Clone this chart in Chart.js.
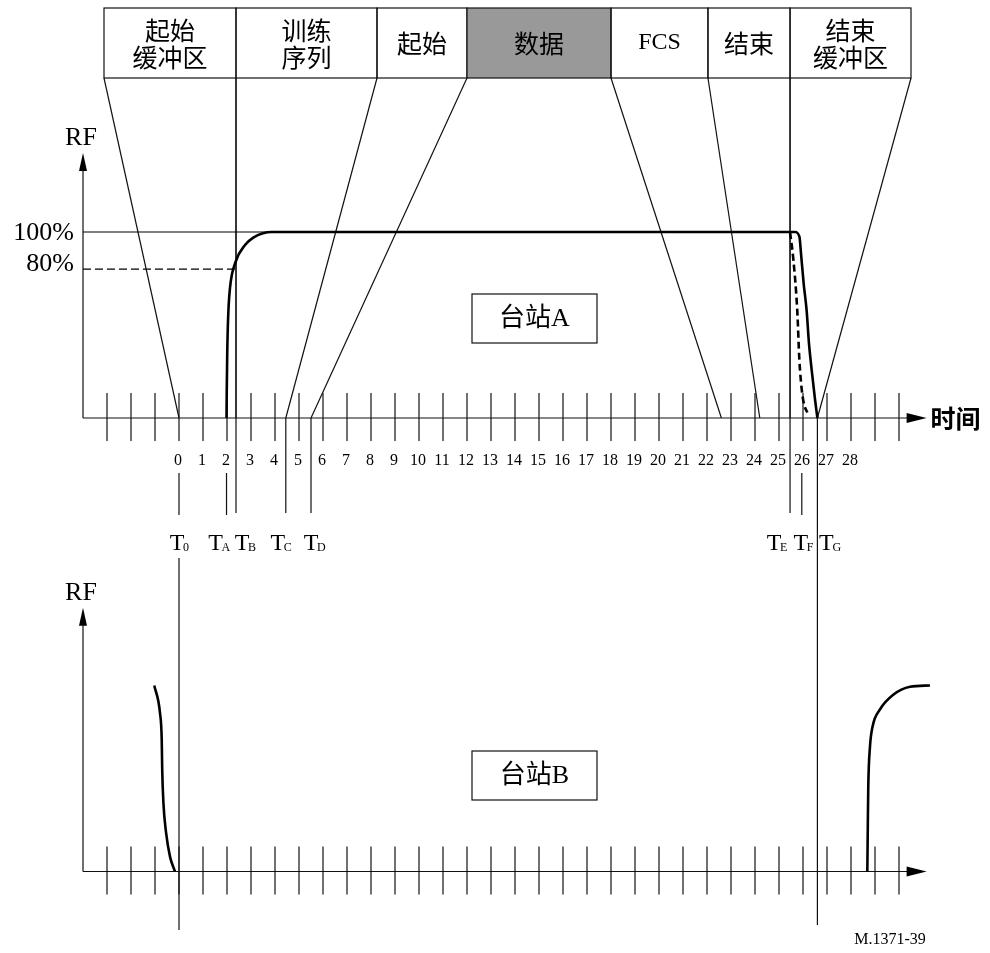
<!DOCTYPE html>
<html>
<head>
<meta charset="utf-8">
<script src="https://cdn.jsdelivr.net/npm/chart.js@4"></script>
<style>
  body { margin: 0; background: #fff; }
  canvas { display: block; }
</style>
</head>
<body>
<canvas id="timing" width="990" height="953"></canvas>
<script>
// Trame : segments de l'en-tête et leurs bornes (en unités de temps)
const segments = ['起始\n缓冲区', '训练\n序列', '起始', '数据', 'FCS', '结束', '结束\n缓冲区'];
const segmentEdges = [-3.125, 2.375, 8.25, 12, 18, 22.04, 25.46, 30.5];
// point d'arrivée de chaque borne sur l'axe du temps de la station A
const edgeTargets = [0, 2.375, 4.45, 5.5, 22.6, 24.2, 25.46, 26.6];
const highlighted = '数据';

// Repères temporels T0..TG
const markerNames = ['0', 'A', 'B', 'C', 'D', 'E', 'F', 'G'];
const markerTimes = [0, 1.98, 2.375, 4.45, 5.5, 25.46, 25.95, 26.6];

// Axe du temps
const tickMarks = [-3, -2, -1, 0, 1, 2, 3, 4, 5, 6, 7, 8, 9, 10, 11, 12, 13, 14, 15, 16,
  17, 18, 19, 20, 21, 22, 23, 24, 25, 26, 27, 28, 29, 30];
const tickLabels = ['0', '1', '2', '3', '4', '5', '6', '7', '8', '9', '10', '11', '12', '13', '14',
  '15', '16', '17', '18', '19', '20', '21', '22', '23', '24', '25', '26', '27', '28'];
const levels = [100, 80];
const levelLabels = ['100%', '80%'];

// Courbes RF (temps, % RF)
const stationARf = [
  [1.98, 0], [1.99, 15], [2.01, 35], [2.05, 55], [2.125, 70], [2.36, 84], [2.75, 93],
  [3.1, 97], [3.5, 99.3], [3.85, 100], [25.67, 100], [25.85, 97.5], [25.92, 88],
  [26.03, 72], [26.15, 58], [26.25, 40], [26.36, 26], [26.5, 10], [26.6, 0]
];
const stationAFallEarly = [
  [25.46, 100], [25.6, 85], [25.76, 58], [25.85, 31], [25.95, 15], [26.05, 7], [26.18, 3]
];
const stationBFall = [
  [-1.03, 100], [-0.79, 85], [-0.72, 71], [-0.70, 55], [-0.65, 37], [-0.54, 21], [-0.375, 8], [-0.17, 0]
];
const stationBRise = [
  [28.68, 0], [28.7, 24], [28.72, 45.6], [28.79, 67], [28.9, 78], [29.2, 87], [29.76, 95],
  [30.46, 99.3], [31.29, 100]
];
const stationNames = ['台站A', '台站B'];

// Mise en page (pixels)
const W = 990, H = 953;
const PX_PER_T = 24, T0_PX = 179;
const PX_PER_PCT = 1.86;
const AXIS_A = 418, AXIS_B = 871.5;
const AXIS_START = -4, AXIS_END = 31.15;
const HEADER_TOP = 8, HEADER_BOTTOM = 78;

const SERIF = '"Liberation Serif", "Noto Sans CJK SC", serif';
const CJK = '"Noto Sans CJK SC", sans-serif';

const pts = arr => arr.map(p => ({ x: p[0], y: p[1] }));

function curve(data, axis, extra) {
  return Object.assign({
    data: pts(data),
    yAxisID: axis,
    borderColor: '#000',
    borderWidth: 2.6,
    pointRadius: 0,
    fill: false,
    clip: false,
    cubicInterpolationMode: 'monotone'
  }, extra || {});
}

const datasets = [
  curve([[AXIS_START, levels[0]], [3.85, levels[0]]], 'yA', { borderWidth: 1.2 }),
  curve([[AXIS_START, levels[1]], [markerTimes[2], levels[1]]], 'yA', { borderWidth: 1.2, borderDash: [8, 4] }),
  curve(stationARf, 'yA'),
  curve(stationAFallEarly, 'yA', { borderDash: [7, 4] }),
  curve(stationBFall, 'yB'),
  curve(stationBRise, 'yB')
];

// Dessin du schéma (en-tête, axes, repères, libellés)
const diagramPlugin = {
  id: 'diagram',
  beforeDatasetsDraw(chart) {
    const ctx = chart.ctx;
    const px = t => chart.scales.x.getPixelForValue(t);
    const pyA = v => chart.scales.yA.getPixelForValue(v);
    const pyB = v => chart.scales.yB.getPixelForValue(v);

    ctx.save();
    ctx.strokeStyle = '#111';
    ctx.fillStyle = '#000';
    ctx.lineWidth = 1.2;

    const line = (x1, y1, x2, y2) => {
      ctx.beginPath(); ctx.moveTo(x1, y1); ctx.lineTo(x2, y2); ctx.stroke();
    };

    // en-tête
    segments.forEach((name, i) => {
      const l = px(segmentEdges[i]), r = px(segmentEdges[i + 1]);
      if (name === highlighted) {
        ctx.fillStyle = '#999';
        ctx.fillRect(l, HEADER_TOP, r - l, HEADER_BOTTOM - HEADER_TOP);
      }
      ctx.strokeRect(l, HEADER_TOP, r - l, HEADER_BOTTOM - HEADER_TOP);
      ctx.fillStyle = '#000';
      const rows = name.split('\n');
      ctx.textAlign = 'center';
      ctx.textBaseline = 'middle';
      ctx.font = name === 'FCS' ? '24px ' + SERIF : '25px ' + CJK;
      const cx = (l + r) / 2;
      if (rows.length === 1) {
        ctx.fillText(rows[0], cx, 43);
      } else {
        ctx.fillText(rows[0], cx, 30);
        ctx.fillText(rows[1], cx, 57);
      }
    });

    // lignes de projection vers l'axe du temps
    segmentEdges.forEach((t, i) => line(px(t), HEADER_BOTTOM, px(edgeTargets[i]), AXIS_A));

    // axes
    const axisLeft = px(AXIS_START), axisRight = px(AXIS_END);
    [[AXIS_A, pyA(142.5)], [AXIS_B, pyB(141.8)]].forEach(([ay, tipY]) => {
      line(axisLeft, ay, axisLeft, tipY + 10);
      ctx.beginPath();
      ctx.moveTo(axisLeft, tipY);
      ctx.lineTo(axisLeft - 4, tipY + 18);
      ctx.lineTo(axisLeft + 4, tipY + 18);
      ctx.closePath(); ctx.fill();

      line(axisLeft, ay, axisRight - 10, ay);
      ctx.beginPath();
      ctx.moveTo(axisRight, ay);
      ctx.lineTo(axisRight - 20, ay - 5);
      ctx.lineTo(axisRight - 20, ay + 5);
      ctx.closePath(); ctx.fill();

      tickMarks.forEach(t => line(px(t), ay - 25, px(t), ay + 23));

      ctx.font = '26px ' + SERIF;
      ctx.textAlign = 'center';
      ctx.textBaseline = 'middle';
      ctx.fillText('RF', axisLeft - 2, tipY - 15);
    });

    // libellés de l'axe du temps
    ctx.font = '16px ' + SERIF;
    ctx.textAlign = 'center';
    ctx.textBaseline = 'middle';
    tickLabels.forEach(lbl => ctx.fillText(lbl, px(Number(lbl)) - 1, 461));

    ctx.font = 'bold 25px ' + CJK;
    ctx.textAlign = 'left';
    ctx.fillText('时间', axisRight + 4, AXIS_A);

    // niveaux 100% / 80%
    ctx.font = '26px ' + SERIF;
    ctx.textAlign = 'right';
    levels.forEach((v, i) => ctx.fillText(levelLabels[i], axisLeft - 9, pyA(v) + (v === 80 ? -5 : 1)));

    // repères T
    const markerSpans = [
      [[473, 515], [558, 930]], [[473, 515]], [[HEADER_BOTTOM, 513]], [[AXIS_A, 513]],
      [[AXIS_A, 513]], [[HEADER_BOTTOM, 513]], [[473, 515]], [[AXIS_A, 925]]
    ];
    const labelNudge = [-2, -11, 6, -8, 0, -16, -1, 9];
    markerTimes.forEach((t, i) => {
      const x = px(t);
      markerSpans[i].forEach(s => line(x, s[0], x, s[1]));
      const tx = x + labelNudge[i];
      ctx.textAlign = 'center';
      ctx.textBaseline = 'alphabetic';
      ctx.font = '24px ' + SERIF;
      ctx.fillText('T', tx, 550);
      ctx.font = '12px ' + SERIF;
      ctx.textAlign = 'left';
      ctx.fillText(markerNames[i], tx + 6, 551);
    });

    // étiquettes des stations
    const boxes = [[472, 294, 125, 49], [472, 751, 125, 49]];
    boxes.forEach((b, i) => {
      ctx.strokeRect(b[0], b[1], b[2], b[3]);
      ctx.font = '26px ' + SERIF;
      ctx.textAlign = 'center';
      ctx.textBaseline = 'middle';
      ctx.fillText(stationNames[i], b[0] + b[2] / 2, b[1] + b[3] / 2 + 1);
    });

    // référence
    ctx.font = '16px ' + SERIF;
    ctx.textAlign = 'center';
    ctx.fillText('M.1371-39', 890, 940);
    ctx.restore();
  }
};

new Chart(document.getElementById('timing').getContext('2d'), {
  type: 'line',
  data: { datasets: datasets },
  options: {
    responsive: false,
    animation: false,
    events: [],
    layout: { padding: 0 },
    plugins: { legend: { display: false }, tooltip: { enabled: false } },
    scales: {
      x: { type: 'linear', display: false, min: -T0_PX / PX_PER_T, max: (W - T0_PX) / PX_PER_T },
      yA: { type: 'linear', display: false, min: -(H - AXIS_A) / PX_PER_PCT, max: AXIS_A / PX_PER_PCT },
      yB: { type: 'linear', display: false, min: -(H - AXIS_B) / PX_PER_PCT, max: AXIS_B / PX_PER_PCT }
    }
  },
  plugins: [diagramPlugin]
});
</script>
</body>
</html>
